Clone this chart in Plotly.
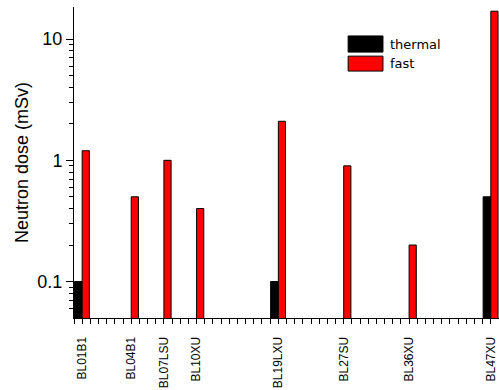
import plotly.graph_objects as go

# Data
beamlines = ["BL01B1", "BL04B1", "BL07LSU", "BL10XU", "BL19LXU", "BL27SU", "BL36XU", "BL47XU"]
slot = [0, 3, 5, 7, 12, 16, 20, 25]          # category slot along the axis
thermal = [0.1, None, None, None, 0.1, None, None, 0.5]
fast = [1.2, 0.5, 1.0, 0.4, 2.1, 0.9, 0.2, 17]
series_names = ["thermal", "fast"]
series_colors = ["black", "#ff0000"]

y_major = [0.1, 1, 10]
y_major_text = ["0.1", "1", "10"]
y_minor = [0.06, 0.07, 0.08, 0.09,
           0.2, 0.3, 0.4, 0.5, 0.6, 0.7, 0.8, 0.9,
           2, 3, 4, 5, 6, 7, 8, 9]

FONT = "Liberation Sans, Arial, sans-serif"
LEGFONT = "DejaVu Sans, sans-serif"

fig = go.Figure()
fig.add_trace(go.Bar(
    x=slot, y=thermal, name=series_names[0],
    width=0.47, offset=-0.47, showlegend=False,
    marker=dict(color=series_colors[0], line=dict(color="black", width=1)),
))
fig.add_trace(go.Bar(
    x=slot, y=fast, name=series_names[1],
    width=0.44, offset=0.0, showlegend=False,
    marker=dict(color=series_colors[1], line=dict(color="black", width=1)),
))

# Custom legend with large swatches (paper coordinates)
leg_rows = [(0.907, 0.855), (0.842, 0.794)]
for (top, bot), name, col in zip(leg_rows, series_names, series_colors):
    fig.add_shape(type="rect", xref="paper", yref="paper",
                  x0=0.645, x1=0.727, y0=bot, y1=top,
                  fillcolor=col, line=dict(color="black", width=1))
    fig.add_annotation(xref="paper", yref="paper", x=0.738, y=(top + bot) / 2,
                       xanchor="left", yanchor="middle", text=name, showarrow=False,
                       font=dict(family=LEGFONT, size=13, color="black"))

fig.update_layout(
    width=499, height=390,
    margin=dict(l=74, r=0, t=7, b=72, autoexpand=False),
    paper_bgcolor="white", plot_bgcolor="white",
    barmode="overlay",
    font=dict(family=FONT, color="black"),
    showlegend=False,
    xaxis=dict(
        range=[-0.5, 25.5], autorange=False, automargin=False,
        tickmode="array", tickvals=slot, ticktext=beamlines,
        tickangle=-90,
        ticks="outside", ticklen=5, tickwidth=1, tickcolor="black",
        ticklabelstandoff=8,
        tickfont=dict(family=FONT, size=12),
        minor=dict(tickmode="linear", tick0=-0.5, dtick=0.5, ticks="outside",
                   ticklen=5, tickwidth=1, tickcolor="black", showgrid=False),
        showline=True, linecolor="black", linewidth=1,
        showgrid=False, zeroline=False, fixedrange=True,
    ),
    yaxis=dict(
        type="log", automargin=False,
        range=[-1.301, 1.265], autorange=False,
        tickmode="array", tickvals=y_major, ticktext=y_major_text,
        ticks="outside", ticklen=7, tickwidth=1, tickcolor="black",
        tickfont=dict(family=FONT, size=18),
        minor=dict(tickmode="array", tickvals=y_minor, ticks="outside",
                   ticklen=4, tickwidth=1, tickcolor="black", showgrid=False),
        showline=True, linecolor="black", linewidth=1,
        showgrid=False, zeroline=False,
        title=dict(text="Neutron dose (mSv)", font=dict(family=FONT, size=18), standoff=4),
    ),
)

fig.write_html(
    "out.html",
    config={"displayModeBar": False},
    post_script="document.body.style.margin='0';document.body.style.padding='0';"
                "document.body.style.overflow='hidden';",
)
